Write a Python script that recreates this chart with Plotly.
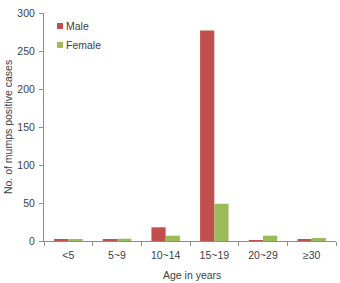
import plotly.graph_objects as go

categories = ["<5", "5~9", "10~14", "15~19", "20~29", "≥30"]
male = [2, 2, 18, 277, 1, 2]
female = [2, 3, 7, 49, 7, 4]
y_ticks = [0, 50, 100, 150, 200, 250, 300]
series_names = ["Male", "Female"]
series_colors = ["#C0504D", "#9BBB59"]

FONT = "Liberation Sans, Arial, sans-serif"
TXT = "#404040"

fig = go.Figure()
for name, vals, col in zip(series_names, [male, female], series_colors):
    fig.add_trace(go.Bar(x=categories, y=vals, name=name, marker_color=col,
                         marker_line_width=0, showlegend=False))

# custom legend (small squares close to text, as in the reference)
shapes = []
annotations = []
legend_rows = [0.943, 0.860]
for yc, name, col in zip(legend_rows, series_names, series_colors):
    h = 0.0132
    shapes.append(dict(type="rect", xref="paper", yref="paper",
                       x0=0.0445, x1=0.065, y0=yc - h, y1=yc + h,
                       fillcolor=col, line_width=0))
    annotations.append(dict(xref="paper", yref="paper", x=0.070, y=yc,
                            xanchor="left", yanchor="middle", text=name,
                            showarrow=False, font=dict(size=10.5, color=TXT, family=FONT)))

# axis titles
annotations.append(dict(xref="paper", yref="paper", x=0.507, y=-0.149,
                        xanchor="center", yanchor="middle", text="Age in years",
                        showarrow=False, font=dict(size=10.5, color=TXT, family=FONT)))
annotations.append(dict(xref="paper", yref="paper", x=-0.123, y=0.5,
                        xanchor="center", yanchor="middle", textangle=-90,
                        text="No. of mumps positive cases",
                        showarrow=False, font=dict(size=10.5, color=TXT, family=FONT)))

fig.update_layout(
    width=340, height=283,
    margin=dict(l=44, r=4, t=13, b=42),
    paper_bgcolor="white", plot_bgcolor="white",
    font=dict(family=FONT, size=10.5, color=TXT),
    barmode="group", bargap=0.415, bargroupgap=0,
    shapes=shapes, annotations=annotations,
)
fig.update_xaxes(
    automargin=False,
    showline=True, linecolor="#8c8c8c", linewidth=1,
    ticks="outside", tickson="boundaries", ticklen=4, tickcolor="#8c8c8c",
    ticklabelstandoff=4,
    showgrid=False,
)
fig.update_yaxes(
    automargin=False,
    range=[0, 300], tickvals=y_ticks,
    showline=True, linecolor="#8c8c8c", linewidth=1,
    ticks="outside", ticklen=4, tickcolor="#8c8c8c",
    ticklabelstandoff=2,
    showgrid=False, zeroline=False,
)

fig.write_html("out.html")
